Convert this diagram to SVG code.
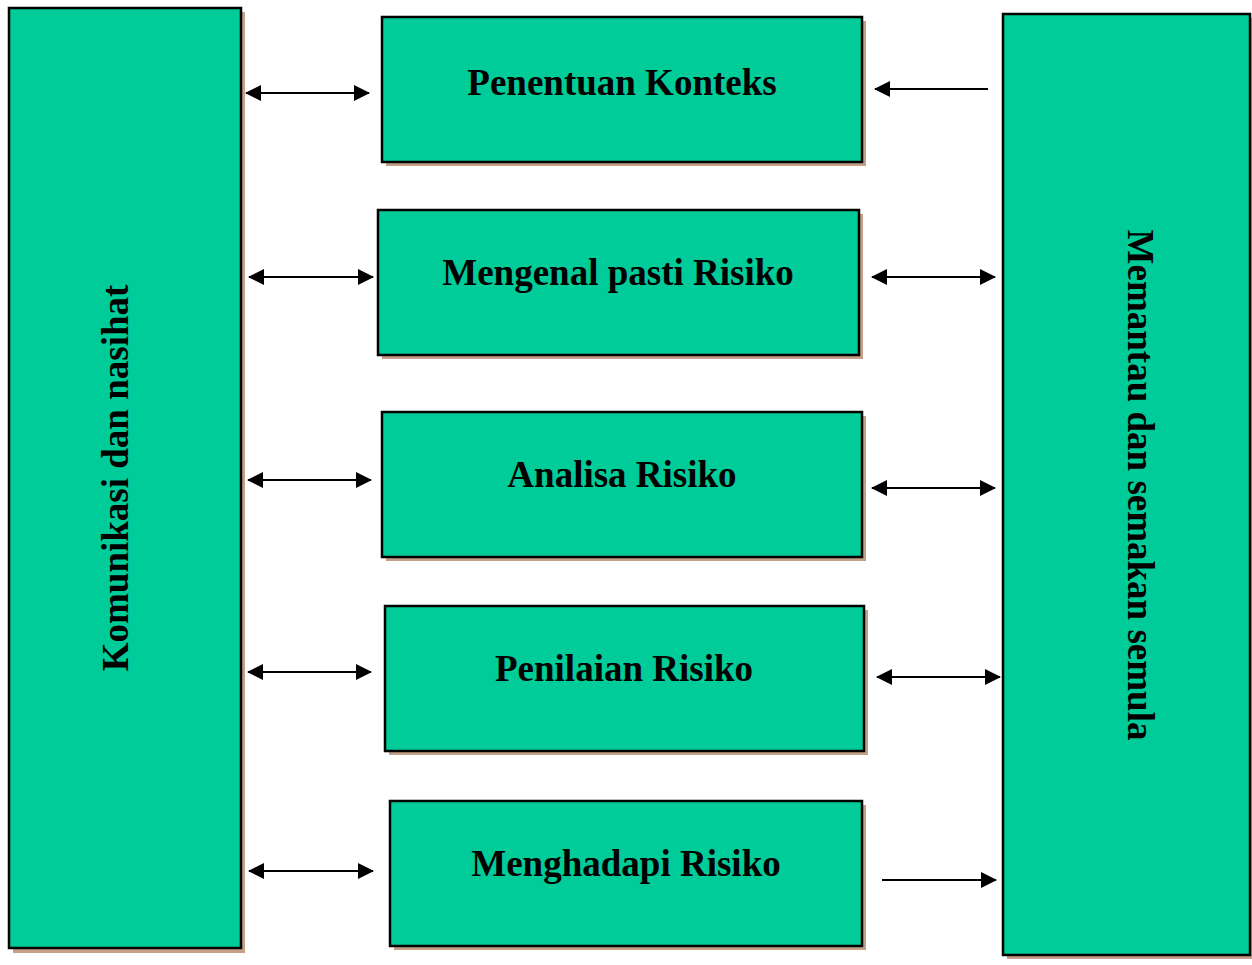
<svg xmlns="http://www.w3.org/2000/svg" width="1252" height="965" viewBox="0 0 1252 965">
<defs>
<style>
.sh{fill:#C4A088}
.bx{fill:#00CC99;stroke:#000;stroke-width:2.5}
.t{font-family:"Liberation Serif","Times New Roman",serif;font-weight:bold;font-size:37px;fill:#000;text-anchor:middle}
.c{stroke:#000;stroke-width:2;fill:none}
</style>
<marker id="ah" viewBox="0 0 16 16" refX="15" refY="8" markerWidth="16" markerHeight="16" markerUnits="userSpaceOnUse" orient="auto-start-reverse">
<path d="M0,0 L16,8 L0,16 Z" fill="#000"/>
</marker>
</defs>
<rect width="1252" height="965" fill="#fff"/>
<g id="komunikasi">
<rect class="sh" x="13" y="12" width="232" height="941"/>
<rect class="bx" x="9" y="8" width="232" height="940"/>
<text class="t" transform="translate(128,478) rotate(-90)">Komunikasi dan nasihat</text>
</g>
<g id="memantau">
<rect class="sh" x="1007" y="18" width="247" height="941"/>
<rect class="bx" x="1003" y="14" width="247" height="941"/>
<text class="t" transform="translate(1128,485) rotate(90)">Memantau dan semakan semula</text>
</g>
<g id="penentuan">
<rect class="sh" x="386" y="21" width="480" height="145"/>
<rect class="bx" x="382" y="17" width="480" height="145"/>
<text class="t" x="622" y="95">Penentuan Konteks</text>
</g>
<g id="mengenal">
<rect class="sh" x="382" y="214" width="481" height="145"/>
<rect class="bx" x="378" y="210" width="481" height="145"/>
<text class="t" x="618" y="285">Mengenal pasti Risiko</text>
</g>
<g id="analisa">
<rect class="sh" x="386" y="416" width="480" height="145"/>
<rect class="bx" x="382" y="412" width="480" height="145"/>
<text class="t" x="622" y="487">Analisa Risiko</text>
</g>
<g id="penilaian">
<rect class="sh" x="389" y="610" width="479" height="145"/>
<rect class="bx" x="385" y="606" width="479" height="145"/>
<text class="t" x="624" y="681">Penilaian Risiko</text>
</g>
<g id="menghadapi">
<rect class="sh" x="394" y="805" width="472" height="145"/>
<rect class="bx" x="390" y="801" width="472" height="145"/>
<text class="t" x="626" y="876">Menghadapi Risiko</text>
</g>
<g id="connectors">
<line class="c" x1="246" y1="93" x2="369" y2="93" marker-start="url(#ah)" marker-end="url(#ah)"/>
<line class="c" x1="988" y1="89" x2="875" y2="89" marker-end="url(#ah)"/>
<line class="c" x1="249" y1="277" x2="373" y2="277" marker-start="url(#ah)" marker-end="url(#ah)"/>
<line class="c" x1="872" y1="277" x2="995" y2="277" marker-start="url(#ah)" marker-end="url(#ah)"/>
<line class="c" x1="248" y1="480" x2="371" y2="480" marker-start="url(#ah)" marker-end="url(#ah)"/>
<line class="c" x1="872" y1="488" x2="995" y2="488" marker-start="url(#ah)" marker-end="url(#ah)"/>
<line class="c" x1="248" y1="672" x2="371" y2="672" marker-start="url(#ah)" marker-end="url(#ah)"/>
<line class="c" x1="877" y1="677" x2="1000" y2="677" marker-start="url(#ah)" marker-end="url(#ah)"/>
<line class="c" x1="249" y1="871" x2="373" y2="871" marker-start="url(#ah)" marker-end="url(#ah)"/>
<line class="c" x1="882" y1="880" x2="996" y2="880" marker-end="url(#ah)"/>
</g>
</svg>
